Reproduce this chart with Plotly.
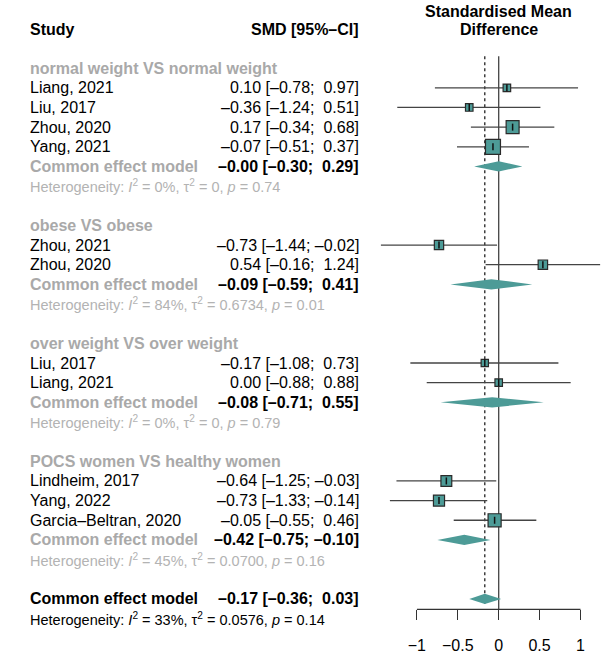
import plotly.graph_objects as go

# ---- data -----------------------------------------------------------------
group_names = [
    "normal weight VS normal weight",
    "obese VS obese",
    "over weight VS over weight",
    "POCS women VS healthy women",
]
study_labels = [
    ["Liang, 2021", "Liu, 2017", "Zhou, 2020", "Yang, 2021"],
    ["Zhou, 2021", "Zhou, 2020"],
    ["Liu, 2017", "Liang, 2021"],
    ["Lindheim, 2017", "Yang, 2022", "Garcia\u2013Beltran, 2020"],
]
study_smd = [
    [0.10, -0.36, 0.17, -0.07],
    [-0.73, 0.54],
    [-0.17, 0.00],
    [-0.64, -0.73, -0.05],
]
study_lower = [
    [-0.78, -1.24, -0.34, -0.51],
    [-1.44, -0.16],
    [-1.08, -0.88],
    [-1.25, -1.33, -0.55],
]
study_upper = [
    [0.97, 0.51, 0.68, 0.37],
    [-0.02, 1.24],
    [0.73, 0.88],
    [-0.03, -0.14, 0.46],
]
group_smd = [-0.0, -0.09, -0.08, -0.42]
group_lower = [-0.30, -0.59, -0.71, -0.75]
group_upper = [0.29, 0.41, 0.55, -0.10]
group_i2 = [0, 84, 0, 45]
group_tau2 = [0.0, 0.6734, 0.0, 0.0700]
group_p = [0.74, 0.01, 0.79, 0.16]

overall_smd = -0.17
overall_lower = -0.36
overall_upper = 0.03
overall_i2 = 33
overall_tau2 = 0.0576
overall_p = 0.14

x_tickvals = [-1, -0.5, 0, 0.5, 1]
x_ticktext = ["\u22121", "\u22120.5", "0", "0.5", "1"]

# ---- styling ----------------------------------------------------------------
FONT = "Liberation Sans, Arial, Helvetica, sans-serif"
TEAL = "#4d9b97"
GREY_BOLD = "#a9a9a9"
GREY_HET = "#b3b3b3"
LINE_COL = "#444444"

W, H = 616, 654
ROW0_PX = 69.0        # pixel centre of the first row
ROW_PX = 19.9         # row pitch
AXIS_PX = 617.0       # pixel position of the x axis line
ZERO_PX = 498.7       # pixel position of SMD = 0
UNIT_PX = 81.8        # pixels per SMD unit
PANEL_LEFT_PX = 370.0
LABEL_X = 28 / W
NUM_X = 361 / W
DIAMOND_HALF = 0.26   # diamond half height in row units
HET_SIZE = 14.5
EQ = "\u00a0=\u00a0"


def row_to_paper(r):
    return 1 - (ROW0_PX + ROW_PX * r) / H


def dash(s):
    return s.replace("-", "\u2013")


def fmt_num(v, pad):
    s = f"{v:.2f}"
    if pad and v >= 0 and not s.startswith("-"):
        s = "\u00a0" + s
    return dash(s)


def ci_text(est, lo, hi):
    return f"{fmt_num(est, False)} [{fmt_num(lo, True)};\u00a0{fmt_num(hi, True)}]"


def het_text(i2, tau2, p):
    t = "0" if tau2 == 0 else f"{tau2:.4f}"
    return (f"Heterogeneity: <i>I</i><sup>2</sup>{EQ}{i2}%, "
            f"\u03c4<sup>2</sup>{EQ}{t}, <i>p</i>{EQ}{p:.2f}")


fig = go.Figure()
annotations = []


def add_text(row, text, x, anchor, color="black", size=16, bold=False,
             xref="paper"):
    if bold:
        text = f"<b>{text}</b>"
    annotations.append(dict(
        x=x, y=row_to_paper(row), xref=xref, yref="paper", text=text,
        showarrow=False, xanchor=anchor, yanchor="middle", align=anchor,
        font=dict(family=FONT, size=size, color=color),
    ))


# ---- lay out rows -----------------------------------------------------------
ci_x, ci_y = [], []
sq_x, sq_y, sq_size = [], [], []
diamonds = []

row = 0
for g, name in enumerate(group_names):
    add_text(row, name, LABEL_X, "left", GREY_BOLD, bold=True)
    row += 1
    for lab, est, lo, hi in zip(study_labels[g], study_smd[g],
                                study_lower[g], study_upper[g]):
        add_text(row, lab, LABEL_X, "left")
        add_text(row, ci_text(est, lo, hi), NUM_X, "right")
        ci_x += [lo, hi, None]
        ci_y += [row, row, None]
        sq_x.append(est)
        sq_y.append(row)
        # square side proportional to the inverse standard error
        sq_size.append(13.2 / (hi - lo))
        row += 1
    add_text(row, "Common effect model", LABEL_X, "left", GREY_BOLD, bold=True)
    add_text(row, ci_text(group_smd[g], group_lower[g], group_upper[g]),
             NUM_X, "right", bold=True)
    diamonds.append((group_smd[g], group_lower[g], group_upper[g], row))
    row += 1
    add_text(row, het_text(group_i2[g], group_tau2[g], group_p[g]),
             LABEL_X, "left", GREY_HET, size=HET_SIZE)
    row += 2

add_text(row, "Common effect model", LABEL_X, "left", bold=True)
add_text(row, ci_text(overall_smd, overall_lower, overall_upper),
         NUM_X, "right", bold=True)
diamonds.append((overall_smd, overall_lower, overall_upper, row))
overall_row = row
row += 1
add_text(row, het_text(overall_i2, overall_tau2, overall_p),
         LABEL_X, "left", "black", size=HET_SIZE)

# header
head_row = (30 - ROW0_PX) / ROW_PX
head_row2 = (12 - ROW0_PX) / ROW_PX
add_text(head_row, "Study", LABEL_X, "left", bold=True)
add_text(head_row, "SMD [95%\u2013CI]", NUM_X, "right", bold=True)
add_text(head_row2, "Standardised Mean", 0, "center", bold=True, xref="x")
add_text(head_row, "Difference", 0, "center", bold=True, xref="x")

# ---- axes geometry ----------------------------------------------------------
y_top = -ROW0_PX / ROW_PX
y_bottom = (AXIS_PX - ROW0_PX) / ROW_PX
x_lo = (PANEL_LEFT_PX - ZERO_PX) / UNIT_PX
x_hi = (W - ZERO_PX) / UNIT_PX
line_top = (57 - ROW0_PX) / ROW_PX
axis_paper = (H - AXIS_PX) / H

shapes = [
    # line of no effect
    dict(type="line", xref="x", yref="y", x0=0, x1=0, y0=line_top, y1=y_bottom,
         line=dict(color=LINE_COL, width=1.3), layer="below"),
    # pooled estimate reference line
    dict(type="line", xref="x", yref="y", x0=overall_smd, x1=overall_smd,
         y0=line_top, y1=overall_row + 0.25,
         line=dict(color="#222222", width=1.3, dash="3px,3px"), layer="below"),
    # x axis line, spanning the tick range only
    dict(type="line", xref="x", yref="paper", x0=x_tickvals[0],
         x1=x_tickvals[-1], y0=axis_paper, y1=axis_paper,
         line=dict(color="#333333", width=1.3)),
]

# ---- traces -----------------------------------------------------------------
fig.add_trace(go.Scatter(
    x=ci_x, y=ci_y, mode="lines", line=dict(color=LINE_COL, width=1.3),
    hoverinfo="skip", showlegend=False,
))
fig.add_trace(go.Scatter(
    x=sq_x, y=sq_y, mode="markers",
    marker=dict(symbol="square", size=sq_size, color=TEAL, opacity=1,
                line=dict(color="#2a2a2a", width=1.2)),
    hoverinfo="skip", showlegend=False,
))
fig.add_trace(go.Scatter(
    x=sq_x, y=sq_y, mode="markers",
    marker=dict(symbol="line-ns", size=5, opacity=1,
                line=dict(color="#111111", width=1.5)),
    hoverinfo="skip", showlegend=False,
))
for est, lo, hi, r in diamonds:
    fig.add_trace(go.Scatter(
        x=[lo, est, hi, est, lo],
        y=[r, r - DIAMOND_HALF, r, r + DIAMOND_HALF, r],
        mode="lines", fill="toself", fillcolor=TEAL,
        line=dict(width=0, color=TEAL), hoverinfo="skip", showlegend=False,
    ))

fig.update_layout(
    width=W, height=H,
    margin=dict(l=0, r=0, t=0, b=0),
    paper_bgcolor="white", plot_bgcolor="white",
    shapes=shapes, annotations=annotations,
    showlegend=False,
    xaxis=dict(
        domain=[PANEL_LEFT_PX / W, 1], range=[x_lo, x_hi],
        showgrid=False, zeroline=False, showline=False,
        tickmode="array", tickvals=x_tickvals, ticktext=x_ticktext,
        ticks="outside", ticklen=10, tickwidth=1.3, tickcolor="#333333",
        tickfont=dict(family=FONT, size=16, color="black"),
        ticklabelstandoff=11, fixedrange=True,
    ),
    yaxis=dict(
        domain=[axis_paper, 1], range=[y_bottom, y_top],
        visible=False, fixedrange=True,
    ),
)

fig.write_html("out.html")
